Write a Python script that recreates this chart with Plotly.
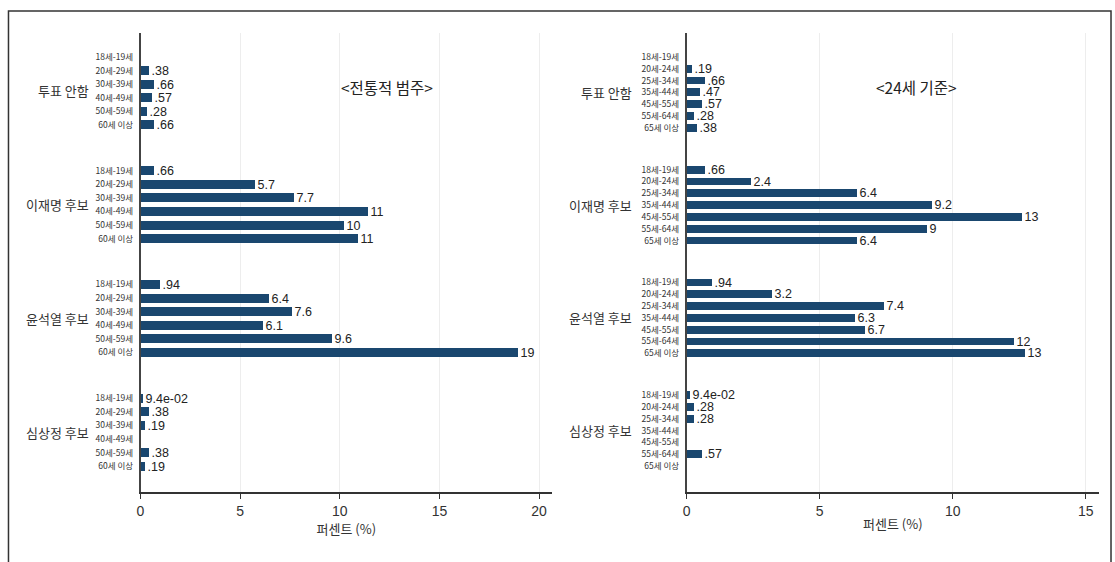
import plotly.graph_objects as go

# Candidate groups (outer categories)
candidates = ["투표 안함", "이재명 후보", "윤석열 후보", "심상정 후보"]

# Age brackets: traditional grouping (left) and 24-year-old split (right)
ages_trad = ["18세-19세", "20세-29세", "30세-39세", "40세-49세", "50세-59세", "60세 이상"]
ages_24 = ["18세-19세", "20세-24세", "25세-34세", "35세-44세", "45세-55세", "55세-64세", "65세 이상"]

# Percent of respondents, one list per candidate (None = no respondents)
trad_novote = [None, 0.38, 0.66, 0.57, 0.28, 0.66]
trad_lee = [0.66, 5.7, 7.7, 11.4, 10.2, 10.9]
trad_yoon = [0.94, 6.4, 7.6, 6.1, 9.6, 18.9]
trad_sim = [0.094, 0.38, 0.19, None, 0.38, 0.19]

b24_novote = [None, 0.19, 0.66, 0.47, 0.57, 0.28, 0.38]
b24_lee = [0.66, 2.4, 6.4, 9.2, 12.6, 9.0, 6.4]
b24_yoon = [0.94, 3.2, 7.4, 6.3, 6.7, 12.3, 12.7]
b24_sim = [0.094, 0.28, 0.28, None, None, 0.57, None]

panel_titles = ["<전통적 범주>", "<24세 기준>"]
x_title = "퍼센트 (%)"
x_ticks_left = [0, 5, 10, 15, 20]
x_ticks_right = [0, 5, 10, 15]

W, H = 1115, 562
NAVY = "#1a476f"
LABEL_FONT = "Liberation Sans Narrow, Liberation Sans, Arial"
KR_FONT = "Noto Sans CJK KR"


def fmt(v):
    """Stata-like %9.2g value labels."""
    if v is None:
        return ""
    if v < 0.1:
        return f"{v:.1e}"
    s = f"{v:.2g}"
    if s.startswith("0."):
        s = s[1:]
    return s


def layout_rows(groups, ages, gap):
    """Row positions for nested (candidate, age) bars with a gap between candidates."""
    pos, ticktext, centers = [], [], []
    n = len(ages)
    for g in range(len(groups)):
        start = g * (n + gap)
        for i, a in enumerate(ages):
            pos.append(start + i)
            ticktext.append(a)
        centers.append(start + (n - 1) / 2)
    return pos, ticktext, centers


def px_x(p):
    return p / W


def px_y(p):
    return 1 - p / H


fig = go.Figure()

panels = [
    dict(ages=ages_trad, series=[trad_novote, trad_lee, trad_yoon, trad_sim], gap=2.36,
         xr=[0, 20.65], dom=[137, 550], ticks=x_ticks_left, pad=(1.76, 1.9),
         ax="", glabel_right=87, title_x=384),
    dict(ages=ages_24, series=[b24_novote, b24_lee, b24_yoon, b24_sim], gap=2.55,
         xr=[0, 15.5], dom=[685, 1099], ticks=x_ticks_right, pad=(2.03, 2.2),
         ax="2", glabel_right=632, title_x=916),
]

plot_top, plot_bottom = 33, 492

for k, p in enumerate(panels):
    pos, ticktext, centers = layout_rows(candidates, p["ages"], p["gap"])
    vals = [v for s in p["series"] for v in s]
    texts = [fmt(v) for v in vals]
    fig.add_trace(go.Bar(
        x=vals, y=pos, orientation="h", width=0.66,
        marker=dict(color=NAVY, line=dict(width=0)),
        text=texts, textposition="outside", constraintext="none", cliponaxis=False,
        textfont=dict(family=LABEL_FONT, size=12.5, color="#222"),
        xaxis="x" + p["ax"], yaxis="y" + p["ax"], showlegend=False, hoverinfo="x+y",
    ))
    ymax = max(pos)
    fig.layout["xaxis" + p["ax"]] = dict(
        domain=[px_x(p["dom"][0]), px_x(p["dom"][1])], range=p["xr"],
        anchor="y" + p["ax"], tickvals=p["ticks"], ticks="outside", ticklen=5,
        tickcolor="#333", showline=True, linecolor="#333", linewidth=1.5,
        showgrid=True, gridcolor="#ededed", gridwidth=1, zeroline=False,
        tickfont=dict(family=LABEL_FONT, size=14, color="#333"),
        title=dict(text=x_title, font=dict(family=KR_FONT, size=13, color="#333"), standoff=2),
    )
    fig.layout["yaxis" + p["ax"]] = dict(
        domain=[px_y(plot_bottom), px_y(plot_top)],
        range=[ymax + p["pad"][1], -p["pad"][0]],
        anchor="x" + p["ax"], tickvals=pos, ticktext=ticktext, ticks="",
        ticklabelstandoff=4,
        showline=True, linecolor="#444", linewidth=1.5, showgrid=False, zeroline=False,
        tickfont=dict(family=KR_FONT, size=8.5, color="#333"),
    )
    for cand, c in zip(candidates, centers):
        fig.add_annotation(
            text=cand, x=px_x(p["glabel_right"]), xref="paper", xanchor="right",
            y=c, yref="y" + p["ax"], yanchor="middle", showarrow=False,
            font=dict(family=KR_FONT, size=13, color="#333"),
        )
    fig.add_annotation(
        text=panel_titles[k], x=px_x(p["title_x"]), xref="paper", xanchor="center",
        y=px_y(87), yref="paper", yanchor="middle", showarrow=False,
        font=dict(family=KR_FONT, size=15.5, color="#222"),
    )

# Outer frame (left, top and right edges; bottom runs off the page)
fig.add_shape(type="rect", xref="paper", yref="paper",
              x0=px_x(4.5), x1=px_x(1111), y0=-0.02, y1=px_y(11),
              line=dict(color="#333", width=1.5), fillcolor="rgba(0,0,0,0)", layer="below")

fig.update_layout(
    width=W, height=H, margin=dict(l=0, r=0, t=0, b=0),
    paper_bgcolor="white", plot_bgcolor="white", bargap=0,
)

fig.write_html("out.html")
